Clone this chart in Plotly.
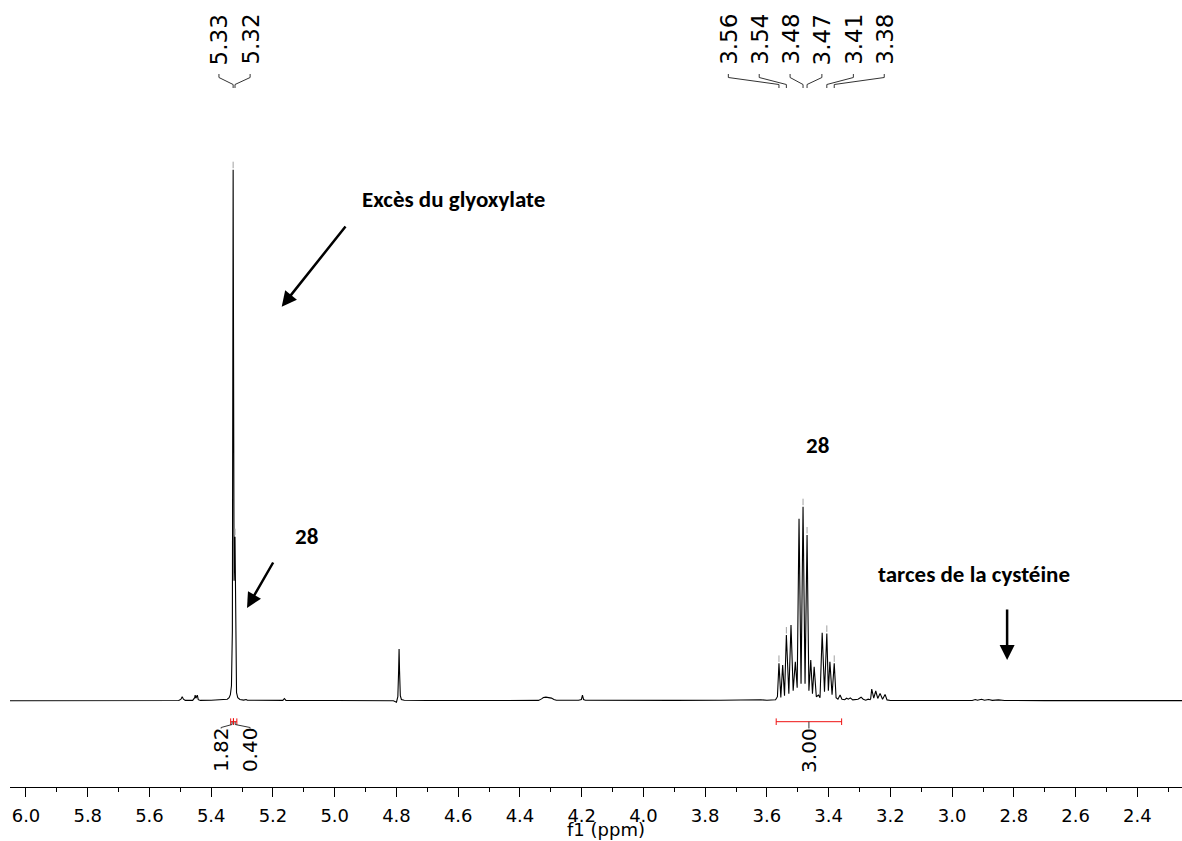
import plotly.graph_objects as go

# 1H NMR trace: chemical shift (ppm) and intensity (a.u.)
shift_ppm = [
    6.06, 5.80, 5.60, 5.505, 5.498, 5.494, 5.490, 5.484, 5.460, 5.4535, 5.452,
    5.4495, 5.447, 5.445, 5.442, 5.435, 5.40, 5.36, 5.348, 5.342, 5.338, 5.3345,
    5.3315, 5.329, 5.326, 5.323, 5.3205, 5.318, 5.314, 5.307, 5.295, 5.287,
    5.283, 5.20, 5.168, 5.163, 5.158, 5.00, 4.85, 4.81, 4.800, 4.7955, 4.793,
    4.7915, 4.790, 4.7875, 4.784, 4.775, 4.70, 4.64, 4.635, 4.50, 4.34, 4.33,
    4.324, 4.316, 4.306, 4.298, 4.290, 4.282, 4.21, 4.201, 4.1975, 4.194, 4.188,
    4.10, 3.90, 3.75, 3.70, 3.68, 3.62, 3.60, 3.58,
    3.572, 3.566, 3.561, 3.555, 3.549, 3.543, 3.537, 3.529, 3.522, 3.515, 3.508,
    3.502, 3.496, 3.4895, 3.483, 3.4765, 3.470, 3.464, 3.458, 3.4525, 3.447,
    3.440, 3.433, 3.428, 3.421, 3.4135, 3.406, 3.401, 3.396, 3.389, 3.382, 3.376,
    3.370, 3.363, 3.357, 3.348, 3.342, 3.336, 3.330, 3.322, 3.305, 3.295, 3.288,
    3.280, 3.272, 3.266, 3.264, 3.2605, 3.254, 3.2475, 3.241, 3.2335, 3.2255,
    3.2173, 3.211, 3.20, 3.00, 2.935, 2.925, 2.918, 2.905, 2.895, 2.882, 2.870,
    2.85, 2.83, 2.70, 2.255,
]
intensity = [
    0, 0, 0.2, 0.2, 1.5, 4, 1.5, 0.3, 0.3, 3, 5.5,
    2.5, 4.5, 5.5, 1, 0.3, 0.5, 0.8, 1.5, 3, 6, 15,
    70, 531, 120, 164, 35, 8, 3, 1.2, 0.6, 1.2,
    0.4, 0.3, 0.3, 2.2, 0.3, 0.2, 0.2, 0, -1.5, 4, 30,
    51.7, 30, 5, 1.2, 0.4, 0.2, 0.6, 0.2, 0.2, 0.3, 1.8,
    3.2, 3.6, 3.4, 2.6, 1.2, 0.4, 0.5, 1.2, 5.5, 1.2, 0.5,
    0.3, 0.3, 0.4, 0.8, 0.3, 0.9, 0.4, 0.6,
    1, 4, 37.3, 3.3, 35.7, 5, 65.7, 7, 75.7, 10, 39,
    13, 182, 17, 194, 17, 165.7, 10, 40.7, 7, 34,
    4, 5.7, 3, 68, 9, 67.3, 10, 39, 6, 37.3, 3,
    1.5, 5.7, 1.5, 1, 2.5, 1.5, 2.8, 0.8, 1.5, 3.5, 1.5,
    0.5, 1.5, 1, 2, 11.7, 2.5, 9.7, 2.3, 7.3, 1.5,
    6.3, 0.8, 0.2, 0.2, 0.2, 1.2, 0.4, 1.4, 0.5, 1.2, 0.3,
    0.8, 0.2, 0.1, 0.1,
]

# picked peaks (labels on top)
picked_ppm = [5.329, 5.323, 3.561, 3.537, 3.483, 3.470, 3.406, 3.382]
picked_labels = ["5.33", "5.32", "3.56", "3.54", "3.48", "3.47", "3.41", "3.38"]
label_ppm = [5.375, 5.274, 3.725, 3.625, 3.525, 3.422, 3.320, 3.220]

# integrals
integral_from = [5.337, 5.328, 3.570]
integral_to = [5.328, 5.317, 3.358]
integral_values = ["1.82", "0.40", "3.00"]
integral_label_ppm = [5.368, 5.274, 3.464]

tick_labels = ["6.0", "5.8", "5.6", "5.4", "5.2", "5.0", "4.8", "4.6", "4.4", "4.2",
               "4.0", "3.8", "3.6", "3.4", "3.2", "3.0", "2.8", "2.6", "2.4"]

BASE = 700.7  # pixel row of the baseline, used to place things in data units
num_font = "DejaVu Sans"
note_font = "Calibri, Carlito, Lato"


def py(px):
    # pixel row -> intensity units (plot area is 787 px tall, 1 unit per px)
    return BASE - px


fig = go.Figure()
fig.add_trace(go.Scatter(x=shift_ppm, y=intensity, mode="lines",
                         line=dict(color="black", width=1.1),
                         hoverinfo="skip", showlegend=False))

# small grey ticks over picked peaks and connectors to the labels
mk_x, mk_y, cx, cy = [], [], [], []
for p, lp in zip(picked_ppm, label_ppm):
    h = intensity[shift_ppm.index(p)]
    mk_x += [p, p, None]
    mk_y += [h + 1.5, h + 8, None]
    cx += [lp, lp, p, p, None]
    cy += [py(74), py(77.5), py(84.5), py(88), None]
fig.add_trace(go.Scatter(x=mk_x, y=mk_y, mode="lines", line=dict(color="#a0a0a0", width=1),
                         hoverinfo="skip", showlegend=False))
fig.add_trace(go.Scatter(x=cx, y=cy, mode="lines", line=dict(color="#333", width=1),
                         hoverinfo="skip", showlegend=False))

for lp, t in zip(label_ppm, picked_labels):
    fig.add_annotation(x=lp, y=py(39.5), text=t, textangle=-90, showarrow=False,
                       font=dict(family=num_font, size=23, color="black"))

# integral bars
ix, iy = [], []
for a, b in zip(integral_from, integral_to):
    ix += [a, b, None, a, a, None, b, b, None]
    iy += [py(721.7), py(721.7), None, py(718.4), py(725), None, py(718.4), py(725), None]
fig.add_trace(go.Scatter(x=ix, y=iy, mode="lines", line=dict(color="#ee1111", width=1),
                         hoverinfo="skip", showlegend=False))

gx, gy = [], []
for a, b, lp in zip(integral_from, integral_to, integral_label_ppm):
    c = (a + b) / 2
    gx += [c, c, lp, lp, None]
    gy += [py(721.7), py(724.5), py(727.5), py(728.5), None]
fig.add_trace(go.Scatter(x=gx, y=gy, mode="lines", line=dict(color="#333", width=1),
                         hoverinfo="skip", showlegend=False))

for lp, t in zip(integral_label_ppm, integral_values):
    fig.add_annotation(x=lp, y=py(750), text=t, textangle=-90, showarrow=False,
                       font=dict(family=num_font, size=20, color="black"))

# notes and arrows
bold = dict(family=note_font, size=23, color="black")
fig.add_annotation(x=4.918, y=py(199), text="<b>Excès du glyoxylate</b>", xanchor="left",
                   showarrow=False, font=bold)
fig.add_annotation(x=5.093, y=py(536), text="<b>28</b>", showarrow=False, font=bold)
fig.add_annotation(x=3.436, y=py(445), text="<b>28</b>", showarrow=False, font=bold)
fig.add_annotation(x=2.9306, y=py(574), text="<b>tarces de la cystéine</b>",
                   showarrow=False, font=bold)

arrow = dict(text="", showarrow=True, arrowhead=2, arrowsize=1.2, arrowwidth=2.5,
             arrowcolor="black", standoff=0)
fig.add_annotation(x=5.1717, y=py(306.7), ax=65, ay=-81.7, **arrow)
fig.add_annotation(x=5.2841, y=py(608), ax=27, ay=-47, **arrow)
fig.add_annotation(x=2.822, y=py(660), ax=0, ay=-52, **arrow)

fig.add_annotation(x=4.121, y=-0.0535, yref="paper", yanchor="middle", text="f1 (ppm)",
                   showarrow=False, font=dict(family=num_font, size=18, color="black"))

fig.update_xaxes(
    range=[6.0518, 2.2555],
    tickvals=[float(t) for t in tick_labels],
    ticktext=tick_labels,
    ticks="outside", ticklen=9, tickwidth=1, tickcolor="black",
    ticklabelstandoff=3,
    showline=True, linecolor="black", linewidth=1,
    showgrid=False, zeroline=False,
    minor=dict(dtick=0.1, tick0=0, ticks="outside", ticklen=4, tickcolor="black", showgrid=False),
    tickfont=dict(family=num_font, size=18, color="black"),
)
fig.update_yaxes(range=[py(787), py(0)], visible=False, showgrid=False, zeroline=False)
fig.update_layout(
    width=1182, height=841,
    margin=dict(l=10, r=0, t=0, b=54),
    plot_bgcolor="white", paper_bgcolor="white",
    showlegend=False,
)

# page body has an 8px default margin; drop it so the figure fills the window
fig.write_html("out.html", config={"displayModeBar": False},
               post_script="document.body.style.margin='0';")
